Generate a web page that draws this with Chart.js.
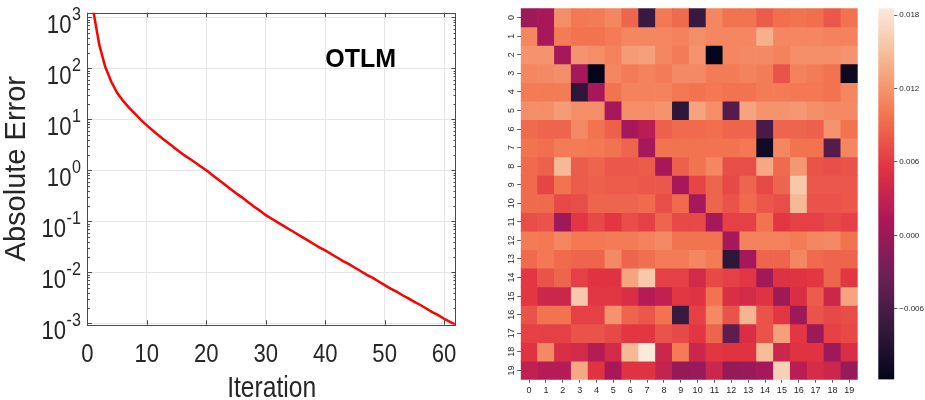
<!DOCTYPE html>
<html>
<head>
<meta charset="utf-8">
<script src="https://cdn.jsdelivr.net/npm/chart.js@4.4.1/dist/chart.umd.min.js"></script>
<style>
  html, body { margin: 0; padding: 0; background: #fff; overflow: hidden; }
  .panel { position: absolute; top: 0; height: 400px; }
  #errBox { left: 0; width: 470px; }
  #heatBox { left: 490px; width: 380px; }
  #barBox { left: 870px; width: 55px; }
</style>
</head>
<body>
<div class="panel" id="errBox"><canvas id="errChart"></canvas></div>
<div class="panel" id="heatBox"><canvas id="heatChart"></canvas></div>
<div class="panel" id="barBox"><canvas id="barChart"></canvas></div>
<script>
// ---- left panel: convergence curve ----
const iterations = [
  1, 2, 3, 4, 5, 6, 7, 8, 9, 10, 11, 12, 13, 14, 15, 16, 17, 18, 19, 20,
  21, 22, 23, 24, 25, 26, 27, 28, 29, 30, 31, 32, 33, 34, 35, 36, 37, 38, 39, 40,
  41, 42, 43, 44, 45, 46, 47, 48, 49, 50, 51, 52, 53, 54, 55, 56, 57, 58, 59, 60,
  61, 62
];
const absError = [
  1320, 288, 107, 55.0, 33.1, 22.9, 17.0, 12.9, 9.77, 7.59,
  6.03, 4.79, 3.89, 3.16, 2.57, 2.09, 1.74, 1.45, 1.20, 1.00,
  0.813, 0.661, 0.537, 0.437, 0.355, 0.295, 0.240, 0.195, 0.162, 0.132,
  0.112, 0.0955, 0.0813, 0.0692, 0.0589, 0.0501, 0.0427, 0.0363, 0.0309, 0.0269,
  0.0229, 0.0195, 0.0166, 0.0145, 0.0123, 0.0105, 0.00891, 0.00776, 0.00661, 0.00562,
  0.00479, 0.00417, 0.00355, 0.00309, 0.00263, 0.00229, 0.00195, 0.00166, 0.00145, 0.00123,
  0.00107, 0.000933
];
const iterTicks = [0, 10, 20, 30, 40, 50, 60];
const errTicks = [1e-3, 1e-2, 1e-1, 1e0, 1e1, 1e2, 1e3];
const seriesLabel = 'OTLM';

// ---- right panel: heatmap ----
const heatLabels = ['0','1','2','3','4','5','6','7','8','9','10','11','12','13','14','15','16','17','18','19'];
const heatValues = [
  [0.0001,0.0010,0.0116,0.0100,0.0103,0.0110,0.0088,-0.0072,0.0100,0.0091,-0.0072,0.0110,0.0097,0.0097,0.0082,0.0094,0.0097,0.0094,0.0079,0.0097],
  [0.0110,0.0007,0.0103,0.0097,0.0097,0.0103,0.0110,0.0110,0.0110,0.0107,0.0116,0.0110,0.0110,0.0110,0.0140,0.0110,0.0110,0.0110,0.0107,0.0107],
  [0.0119,0.0119,0.0007,0.0119,0.0116,0.0107,0.0125,0.0128,0.0110,0.0103,0.0119,-0.0118,0.0110,0.0113,0.0113,0.0107,0.0116,0.0116,0.0116,0.0119],
  [0.0110,0.0113,0.0116,0.0007,-0.0118,0.0110,0.0103,0.0107,0.0103,0.0113,0.0113,0.0103,0.0103,0.0107,0.0103,0.0076,0.0107,0.0103,0.0097,-0.0109],
  [0.0103,0.0103,0.0103,-0.0081,0.0007,0.0097,0.0107,0.0107,0.0107,0.0100,0.0097,0.0100,0.0097,0.0097,0.0103,0.0103,0.0100,0.0100,0.0097,0.0110],
  [0.0116,0.0116,0.0125,0.0116,0.0116,0.0007,0.0116,0.0116,0.0119,-0.0081,0.0131,0.0116,-0.0051,0.0131,0.0119,0.0119,0.0122,0.0116,0.0113,0.0113],
  [0.0091,0.0088,0.0088,0.0113,0.0097,0.0085,0.0007,0.0022,0.0085,0.0091,0.0091,0.0094,0.0088,0.0088,-0.0060,0.0088,0.0088,0.0085,0.0119,0.0097],
  [0.0097,0.0094,0.0103,0.0103,0.0100,0.0097,0.0088,0.0007,0.0097,0.0097,0.0097,0.0097,0.0097,0.0100,-0.0106,0.0110,0.0097,0.0097,-0.0051,0.0110],
  [0.0091,0.0085,0.0146,0.0082,0.0088,0.0079,0.0079,0.0082,0.0007,0.0085,0.0097,0.0110,0.0073,0.0073,0.0134,0.0091,0.0122,0.0076,0.0073,0.0076],
  [0.0091,0.0067,0.0097,0.0082,0.0085,0.0082,0.0082,0.0079,0.0079,0.0007,0.0067,0.0088,0.0070,0.0088,0.0070,0.0088,0.0158,0.0079,0.0079,0.0079],
  [0.0091,0.0091,0.0070,0.0073,0.0088,0.0088,0.0088,0.0091,0.0073,0.0091,0.0007,0.0088,0.0076,0.0091,0.0079,0.0073,0.0146,0.0076,0.0076,0.0079],
  [0.0073,0.0076,0.0001,0.0058,0.0070,0.0058,0.0073,0.0064,0.0088,0.0070,0.0070,0.0007,0.0064,0.0064,0.0097,0.0058,0.0064,0.0064,0.0070,0.0064],
  [0.0103,0.0100,0.0110,0.0100,0.0100,0.0103,0.0103,0.0107,0.0113,0.0097,0.0097,0.0097,0.0007,0.0107,0.0107,0.0107,0.0103,0.0110,0.0113,0.0097],
  [0.0091,0.0100,0.0091,0.0088,0.0088,0.0113,0.0088,0.0094,0.0103,0.0103,0.0110,0.0103,-0.0081,0.0007,0.0088,0.0088,0.0110,0.0091,0.0088,0.0088],
  [0.0058,0.0076,0.0088,0.0064,0.0055,0.0055,0.0131,0.0158,0.0064,0.0064,0.0043,0.0070,0.0064,0.0058,0.0004,0.0052,0.0055,0.0058,0.0088,0.0058],
  [0.0058,0.0037,0.0037,0.0158,0.0058,0.0058,0.0049,0.0019,0.0028,0.0058,0.0055,0.0097,0.0049,0.0043,0.0055,0.0001,0.0049,0.0082,0.0037,0.0131],
  [0.0076,0.0097,0.0097,0.0064,0.0064,0.0119,0.0088,0.0079,0.0097,-0.0072,0.0064,0.0113,0.0076,0.0143,0.0076,0.0058,0.0001,0.0076,0.0070,0.0073],
  [0.0064,0.0064,0.0064,0.0076,0.0076,0.0070,0.0058,0.0058,0.0076,0.0070,0.0058,0.0088,-0.0045,0.0049,0.0076,0.0128,0.0058,0.0001,0.0064,0.0070],
  [0.0055,0.0113,0.0049,0.0043,0.0019,0.0043,0.0146,0.0185,0.0037,0.0103,0.0037,0.0058,0.0055,0.0055,0.0149,0.0037,0.0055,0.0055,0.0001,0.0049],
  [0.0028,0.0019,0.0019,0.0134,0.0055,0.0010,0.0055,0.0055,0.0031,-0.0005,-0.0002,0.0037,-0.0005,-0.0002,0.0007,0.0164,0.0022,0.0046,0.0037,-0.0002]
];
const cbarTicks = [-0.006, 0, 0.006, 0.012, 0.018];
const cbarMin = -0.01176;
const cbarMax = 0.01855;

// seaborn "rocket" colormap, sampled
const rocketStops = [
  [0, '#03051a'], [1/7, '#35193e'], [2/7, '#701f57'], [3/7, '#ad1759'],
  [4/7, '#e13342'], [5/7, '#f37651'], [6/7, '#f6b48f'], [1, '#faebdd']
];
function hexRgb(h) {
  return [parseInt(h.slice(1, 3), 16), parseInt(h.slice(3, 5), 16), parseInt(h.slice(5, 7), 16)];
}
function rocket(t) {
  t = Math.max(0, Math.min(1, t));
  for (let i = 1; i < rocketStops.length; i++) {
    if (t <= rocketStops[i][0]) {
      const [t0, c0] = rocketStops[i - 1];
      const [t1, c1] = rocketStops[i];
      const f = (t - t0) / (t1 - t0);
      const a = hexRgb(c0), b = hexRgb(c1);
      return 'rgb(' + a.map((v, k) => Math.round(v + (b[k] - v) * f)).join(',') + ')';
    }
  }
  return rocketStops[rocketStops.length - 1][1];
}

const sans = "'Liberation Sans', Arial, sans-serif";
const ink = '#262626';
const squeeze = 0.85;   // MATLAB export looks horizontally condensed
Chart.defaults.animation = false;
Chart.defaults.font.family = sans;
Chart.defaults.color = ink;

function narrowText(ctx, text, x, y, align) {
  ctx.save();
  ctx.translate(x, y);
  ctx.scale(squeeze, 1);
  ctx.textAlign = align;
  ctx.fillText(text, 0, 0);
  ctx.restore();
}

// MATLAB style box, inner ticks, tick labels
const matlabAxes = {
  id: 'matlabAxes',
  afterDraw(chart) {
    const {ctx, chartArea: a, scales: {x, y}} = chart;
    ctx.save();
    ctx.strokeStyle = '#4a4a4a';
    ctx.lineWidth = 1;
    ctx.beginPath();
    iterTicks.forEach(v => {
      const px = Math.round(x.getPixelForValue(v)) + 0.5;
      ctx.moveTo(px, a.bottom); ctx.lineTo(px, a.bottom - 4.5);
      ctx.moveTo(px, a.top); ctx.lineTo(px, a.top + 4.5);
    });
    for (let k = -3; k <= 3; k++) {
      for (let m = 1; m <= 9; m++) {
        const v = m * Math.pow(10, k);
        if (v < y.min || v > y.max) continue;
        const py = Math.round(y.getPixelForValue(v)) + 0.5;
        const len = m === 1 ? 4.5 : 2.5;
        ctx.moveTo(a.left, py); ctx.lineTo(a.left + len, py);
        ctx.moveTo(a.right, py); ctx.lineTo(a.right - len, py);
      }
    }
    ctx.stroke();
    ctx.strokeRect(Math.round(a.left) + 0.5, Math.round(a.top) + 0.5,
                   Math.round(a.width) - 1, Math.round(a.height));

    ctx.fillStyle = ink;
    ctx.textBaseline = 'alphabetic';
    errTicks.forEach(v => {
      const py = y.getPixelForValue(v);
      const exp = String(Math.round(Math.log10(v)));
      ctx.font = '19px ' + sans;
      const ew = ctx.measureText(exp).width * squeeze;
      const xr = a.left - 6.5;
      narrowText(ctx, exp, xr - ew, py + 3, 'left');
      ctx.font = '26px ' + sans;
      narrowText(ctx, '10', xr - ew - 0.5, py + 16, 'right');
    });
    ctx.font = '26px ' + sans;
    iterTicks.forEach(v => {
      narrowText(ctx, String(v), x.getPixelForValue(v), a.bottom + 37.5, 'center');
    });
    ctx.font = '29px ' + sans;
    narrowText(ctx, 'Iteration', (a.left + a.right) / 2, 397, 'center');

    ctx.font = 'bold 25px ' + sans;
    ctx.textAlign = 'left';
    ctx.fillStyle = '#000';
    ctx.fillText(seriesLabel, x.getPixelForValue(40), y.getPixelForValue(100) - 1);
    ctx.restore();
  }
};

new Chart(document.getElementById('errChart'), {
  type: 'line',
  data: {
    datasets: [{
      data: iterations.map((it, i) => ({x: it, y: absError[i]})),
      borderColor: '#ff0000',
      borderWidth: 2.5,
      pointRadius: 0,
      tension: 0
    }]
  },
  options: {
    responsive: true,
    maintainAspectRatio: false,
    layout: {padding: {left: 0, top: 12.7, right: 14, bottom: 0}},
    plugins: {legend: {display: false}, tooltip: {enabled: false}},
    scales: {
      x: {
        type: 'linear', min: 0, max: 62,
        afterBuildTicks: s => { s.ticks = iterTicks.map(v => ({value: v})); },
        afterFit: s => { s.height = 75.3; },
        grid: {color: '#e6e6e6', drawTicks: false},
        border: {display: false},
        ticks: {display: false}
      },
      y: {
        type: 'logarithmic', min: 0.00094, max: 1230,
        afterBuildTicks: s => { s.ticks = errTicks.map(v => ({value: v})); },
        afterFit: s => { s.width = 87.4; },
        grid: {color: '#e6e6e6', drawTicks: false},
        border: {display: false},
        ticks: {display: false},
        title: {display: true, text: 'Absolute Error', color: ink,
                font: {size: 29, family: sans}, padding: 0}
      }
    }
  },
  plugins: [matlabAxes]
});

// heatmap: one floating-bar dataset per row
const cellColor = v => rocket((v - cbarMin) / (cbarMax - cbarMin));
new Chart(document.getElementById('heatChart'), {
  type: 'bar',
  data: {
    labels: heatLabels,
    datasets: heatValues.map((row, r) => ({
      data: row.map(() => [r, r + 1]),
      backgroundColor: row.map(cellColor),
      borderWidth: 0,
      barPercentage: 1,
      categoryPercentage: 1,
      grouped: false
    }))
  },
  options: {
    responsive: true,
    maintainAspectRatio: false,
    layout: {padding: {left: 0, top: 8.3, right: 12.3, bottom: 0}},
    plugins: {legend: {display: false}, tooltip: {enabled: false}},
    scales: {
      x: {
        afterFit: s => { s.height = 20.3; },
        grid: {offset: false, drawOnChartArea: false, tickLength: 3, tickColor: '#333', tickWidth: 0.8},
        border: {display: false},
        ticks: {font: {size: 9}, color: ink, padding: 2, maxRotation: 0, autoSkip: false}
      },
      y: {
        type: 'linear', min: 0, max: 20, reverse: true,
        afterBuildTicks: s => { s.ticks = heatLabels.map((l, i) => ({value: i + 0.5})); },
        afterFit: s => { s.width = 30.7; },
        grid: {drawOnChartArea: false, tickLength: 3.5, tickColor: '#333', tickWidth: 0.8},
        border: {display: false},
        ticks: {
          font: {size: 9}, color: ink, padding: 0.5,
          minRotation: 90, maxRotation: 90, crossAlign: 'center', autoSkip: false,
          callback: v => heatLabels[Math.round(v - 0.5)]
        }
      }
    }
  }
});

// colour bar
new Chart(document.getElementById('barChart'), {
  type: 'bar',
  data: {
    labels: [''],
    datasets: [{
      data: [[cbarMin, cbarMax]],
      barPercentage: 1,
      categoryPercentage: 1,
      borderWidth: 0,
      backgroundColor: c => {
        const a = c.chart.chartArea;
        if (!a) return '#f37651';
        const g = c.chart.ctx.createLinearGradient(0, a.bottom, 0, a.top);
        for (let i = 0; i <= 28; i++) g.addColorStop(i / 28, rocket(i / 28));
        return g;
      }
    }]
  },
  options: {
    responsive: true,
    maintainAspectRatio: false,
    layout: {padding: {left: 8.3, top: 8.3, right: 0, bottom: 20.5}},
    plugins: {legend: {display: false}, tooltip: {enabled: false}},
    scales: {
      x: {display: false},
      y: {
        position: 'right', min: cbarMin, max: cbarMax,
        afterBuildTicks: s => { s.ticks = cbarTicks.map(v => ({value: v})); },
        afterFit: s => { s.width = 30.7; },
        grid: {drawOnChartArea: false, tickLength: 3, tickColor: '#333', tickWidth: 0.8},
        border: {display: false},
        ticks: {
          font: {size: 8}, color: ink, padding: 2,
          callback: v => v === 0 ? '0.000' : (v < 0 ? '\u2212' + Math.abs(v).toFixed(3) : v.toFixed(3))
        }
      }
    }
  }
});
</script>
</body>
</html>
